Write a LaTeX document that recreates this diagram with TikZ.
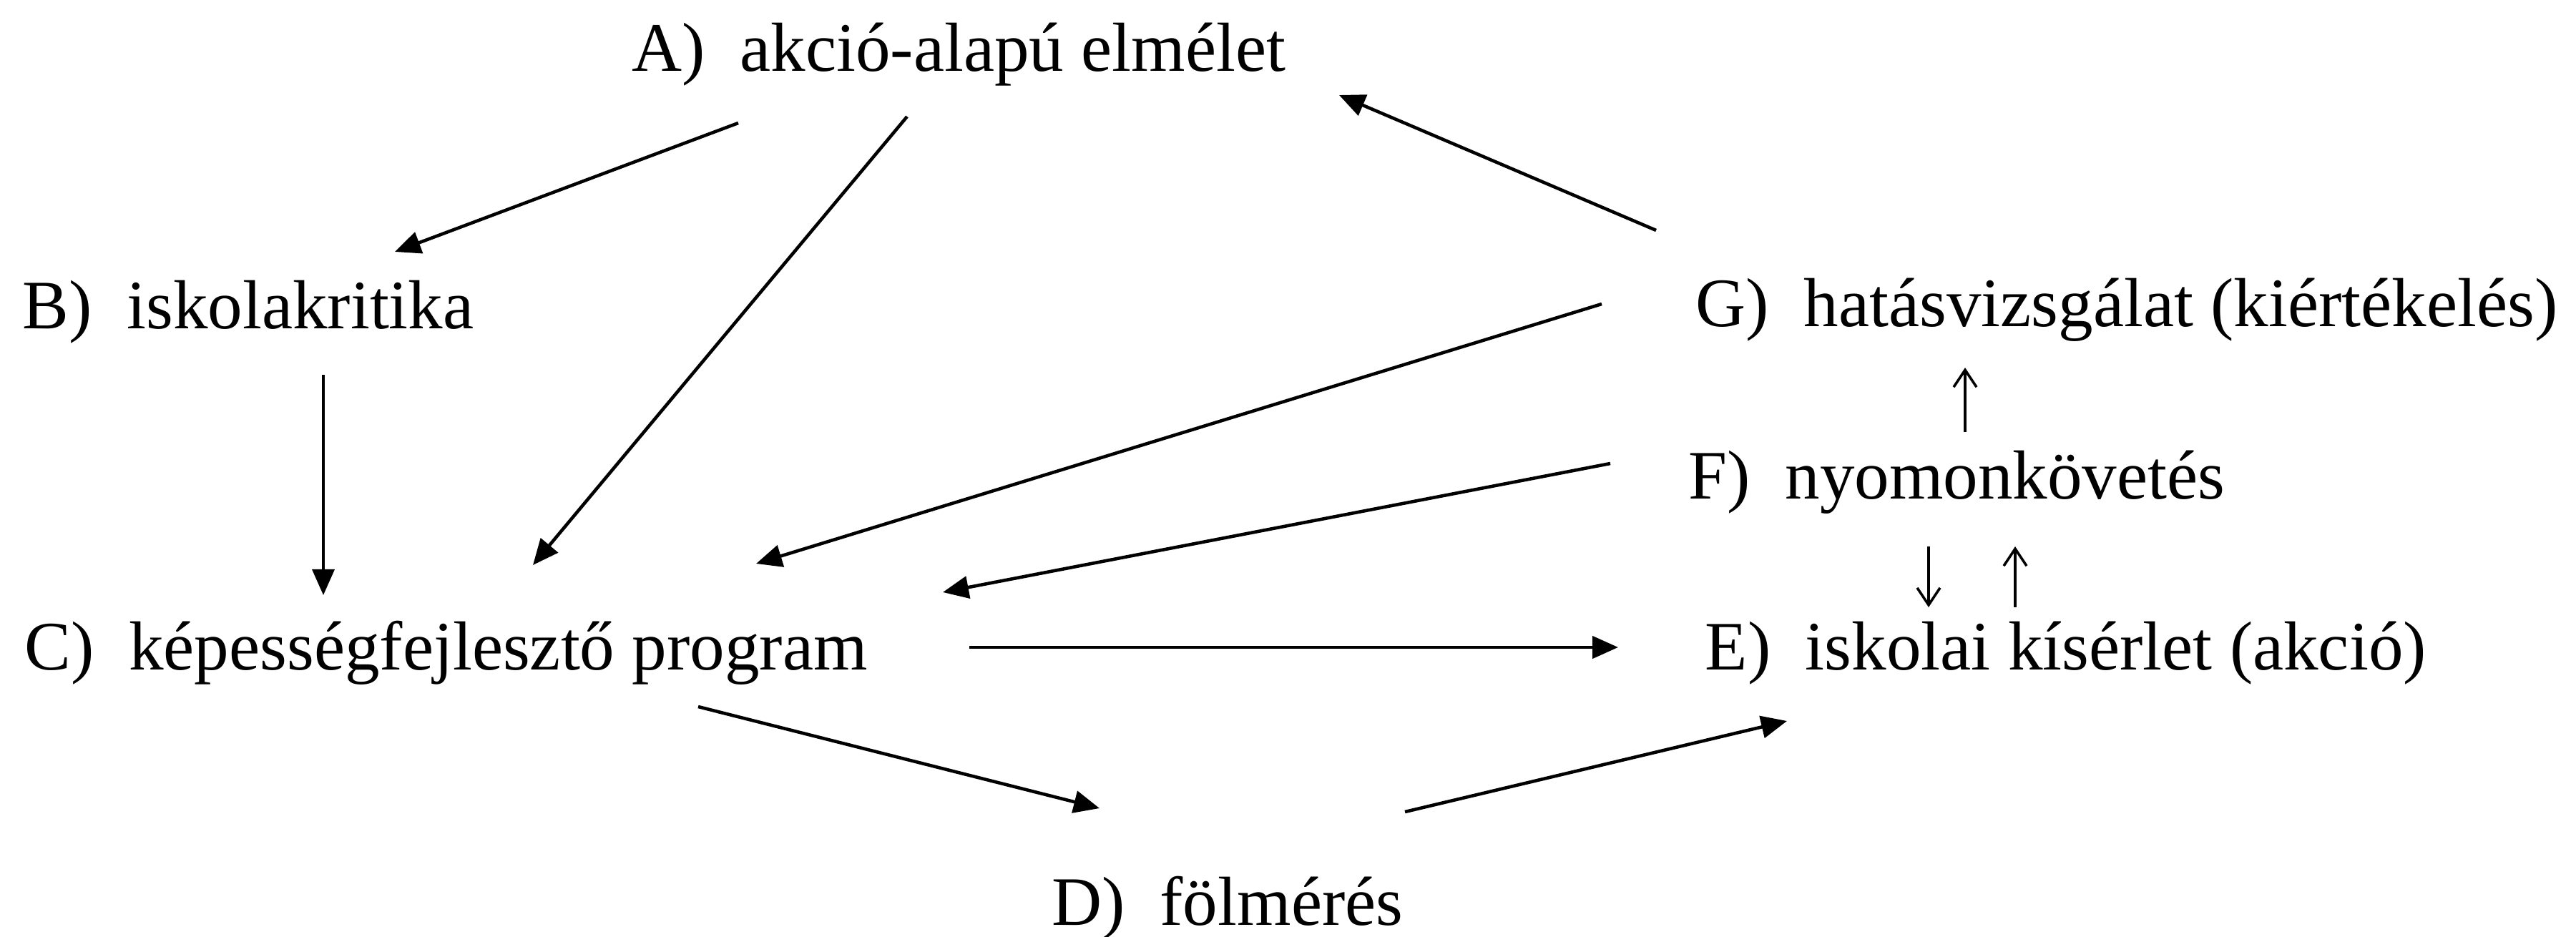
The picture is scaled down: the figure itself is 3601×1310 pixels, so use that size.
\documentclass[tikz,border=0pt]{standalone}
\usepackage{fontspec}
\setmainfont{Liberation Serif}
\usetikzlibrary{arrows.meta, calc}

\begin{document}
\begin{tikzpicture}[
    x=0.01cm, y=-0.01cm,
    lbl/.style={anchor=base west, inner sep=0pt, font=\fontsize{27.6}{32}\selectfont},
    arr/.style={-{Triangle[length=3.6mm, width=3.1mm]}, line width=1.3pt},
    tick/.style={-{Straight Barb[length=2.4mm, width=3.2mm]}, line width=1pt}
]
    \useasboundingbox (0,0) rectangle (3601,1310);

    \node[lbl] (elmelet)  at (883,100)  {A)~~akció-alapú elmélet};
    \node[lbl] (kritika)  at (31,460)   {B)~~iskolakritika};
    \node[lbl] (program)  at (34,936)   {C)~~képességfejlesztő program};
    \node[lbl] (felmeres) at (1470,1293) {D)~~fölmérés};
    \node[lbl] (kiserlet) at (2383,936) {E)~~iskolai kísérlet (akció)};
    \node[lbl] (kovetes)  at (2360,698) {F)~~nyomonkövetés};
    \node[lbl] (hatas)    at (2370,457) {G)~~hatásvizsgálat (kiértékelés)};

    % from the theory
    \draw[arr] ($(elmelet.base west)+(149,72)$) -- ($(kritika.base west)+(521,-108)$);
    \draw[arr] ($(elmelet.base west)+(385,63)$) -- ($(program.base west)+(711,-146)$);
    \draw[arr, line width=1pt] ($(kritika.base west)+(421,64)$) -- ($(program.base west)+(418,-104)$);

    % program, survey, experiment
    \draw[arr] ($(program.base west)+(1321,-31)$) -- ($(kiserlet.base west)+(-121,-31)$);
    \draw[arr] ($(program.base west)+(942,52)$) -- ($(felmeres.base west)+(67,-163)$);
    \draw[arr] ($(felmeres.base west)+(494,-158)$) -- ($(kiserlet.base west)+(115,72)$);

    % feedback
    \draw[arr] ($(hatas.base west)+(-55,-135)$) -- ($(elmelet.base west)+(989,33)$);
    \draw[arr] ($(hatas.base west)+(-131,-32)$) -- ($(program.base west)+(1023,-148)$);
    \draw[arr] ($(kovetes.base west)+(-109,-50)$) -- ($(program.base west)+(1284,-108)$);

    % short links on the right
    \draw[tick] ($(kovetes.base west)+(387,-94)$) -- ($(hatas.base west)+(377,57)$);
    \draw[tick] ($(kovetes.base west)+(336,66)$) -- ($(kiserlet.base west)+(313,-87)$);
    \draw[tick] ($(kiserlet.base west)+(434,-87)$) -- ($(kovetes.base west)+(457,66)$);
\end{tikzpicture}
\end{document}
